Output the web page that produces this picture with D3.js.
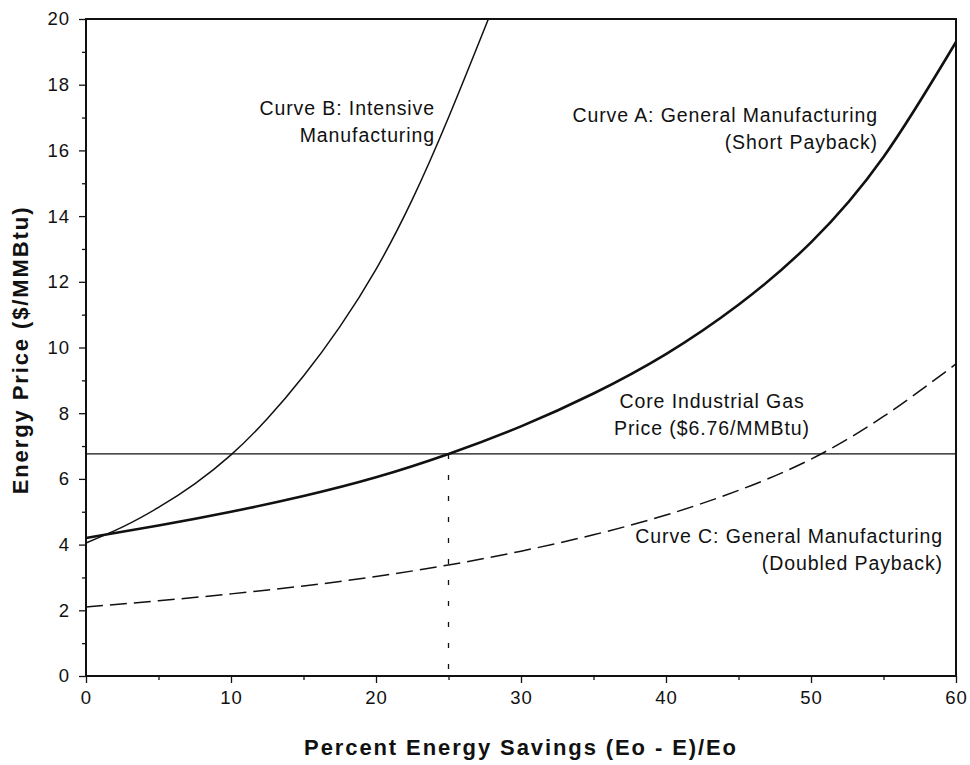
<!DOCTYPE html>
<html>
<head>
<meta charset="utf-8">
<script src="https://cdn.jsdelivr.net/npm/d3@7"></script>
<style>
  body { margin: 0; background: #fff; }
  svg text { font-family: 'Liberation Sans', Arial, Helvetica, sans-serif; fill: #111; }
</style>
</head>
<body>
<div id="chart"></div>
<script>
// axis ticks
const xTicks = [0, 10, 20, 30, 40, 50, 60];
const xMinor = [5, 15, 25, 35, 45, 55];
const yTicks = [0, 2, 4, 6, 8, 10, 12, 14, 16, 18, 20];
const yMinor = [1, 3, 5, 7, 9, 11, 13, 15, 17, 19];

// Curve A: general manufacturing (short payback)
const pctA = [0, 5, 10, 15, 20, 25, 30, 35, 40, 45, 50, 55, 60];
const priceA = [4.2, 4.58, 5.0, 5.48, 6.05, 6.76, 7.6, 8.6, 9.8, 11.3, 13.2, 15.8, 19.3];

// Curve B: intensive manufacturing
const pctB = [0, 2.5, 5, 7.5, 10, 12.5, 15, 17.5, 20, 22.5, 25, 27.75];
const priceB = [4.05, 4.53, 5.13, 5.85, 6.73, 7.83, 9.13, 10.63, 12.38, 14.5, 17.0, 20];

// Curve C: general manufacturing (doubled payback)
const pctC = [0, 5, 10, 15, 20, 25, 30, 35, 40, 45, 50, 55, 60];
const priceC = [2.1, 2.29, 2.5, 2.74, 3.03, 3.38, 3.8, 4.3, 4.9, 5.65, 6.6, 7.9, 9.5];

const gasPrice = 6.76;
const breakEven = 25;

const W = 970, H = 765;
const margin = { left: 86, right: 14, top: 19, bottom: 89 };

const svg = d3.select('#chart')
  .append('svg')
  .attr('width', W)
  .attr('height', H);

const x = d3.scaleLinear().domain([0, 60]).range([margin.left, W - margin.right]);
const y = d3.scaleLinear().domain([0, 20]).range([H - margin.bottom, margin.top]);

// axes
const xAxis = svg.append('g')
  .attr('transform', `translate(0,${y(0)})`)
  .call(d3.axisBottom(x).tickValues(xTicks).tickSize(7).tickPadding(8).tickSizeOuter(0));
const xAxisMinor = svg.append('g')
  .attr('transform', `translate(0,${y(0)})`)
  .call(d3.axisBottom(x).tickValues(xMinor).tickSize(4).tickFormat('').tickSizeOuter(0));
const yAxis = svg.append('g')
  .attr('transform', `translate(${x(0)},0)`)
  .call(d3.axisLeft(y).tickValues(yTicks).tickSize(7).tickPadding(9).tickSizeOuter(0));
const yAxisMinor = svg.append('g')
  .attr('transform', `translate(${x(0)},0)`)
  .call(d3.axisLeft(y).tickValues(yMinor).tickSize(4).tickFormat('').tickSizeOuter(0));

[xAxis, xAxisMinor, yAxis, yAxisMinor].forEach((g) => {
  g.select('.domain').remove();
  g.selectAll('line').attr('stroke', '#111').attr('stroke-width', 1.3);
  g.selectAll('text')
    .style('font-size', '18.5px')
    .style('letter-spacing', '1px')
    .attr('fill', '#111');
});

// frame
svg.append('rect')
  .attr('x', x(0))
  .attr('y', y(20))
  .attr('width', x(60) - x(0))
  .attr('height', y(0) - y(20))
  .attr('fill', 'none')
  .attr('stroke', '#111')
  .attr('stroke-width', 2);

// gas price line
svg.append('line')
  .attr('x1', x(0)).attr('x2', x(60))
  .attr('y1', y(gasPrice)).attr('y2', y(gasPrice))
  .attr('stroke', '#111')
  .attr('stroke-width', 1.3);

// break-even drop line
svg.append('line')
  .attr('x1', x(breakEven)).attr('x2', x(breakEven))
  .attr('y1', y(gasPrice)).attr('y2', y(0))
  .attr('stroke', '#111')
  .attr('stroke-width', 1.3)
  .attr('stroke-dasharray', '5,16');

const line = d3.line()
  .x((d) => x(d[0]))
  .y((d) => y(d[1]))
  .curve(d3.curveNatural);

const zip = (a, b) => a.map((v, i) => [v, b[i]]);

svg.append('path')
  .datum(zip(pctC, priceC))
  .attr('d', line)
  .attr('fill', 'none')
  .attr('stroke', '#111')
  .attr('stroke-width', 1.5)
  .attr('stroke-dasharray', '17,7');

svg.append('path')
  .datum(zip(pctB, priceB))
  .attr('d', line)
  .attr('fill', 'none')
  .attr('stroke', '#111')
  .attr('stroke-width', 1.5);

svg.append('path')
  .datum(zip(pctA, priceA))
  .attr('d', line)
  .attr('fill', 'none')
  .attr('stroke', '#111')
  .attr('stroke-width', 2.6);

// annotations
const notes = [
  { lines: ['Curve B: Intensive', 'Manufacturing'], x: 435, y: 115, anchor: 'end' },
  { lines: ['Curve A: General Manufacturing', '(Short Payback)'], x: 878, y: 122, anchor: 'end' },
  { lines: ['Core Industrial Gas', 'Price ($6.76/MMBtu)'], x: 712, y: 408, anchor: 'middle' },
  { lines: ['Curve C: General Manufacturing', '(Doubled Payback)'], x: 943, y: 543, anchor: 'end' },
];

notes.forEach((n) => {
  const t = svg.append('text')
    .attr('x', n.x)
    .attr('y', n.y)
    .attr('text-anchor', n.anchor)
    .style('font-size', '19.5px')
    .style('letter-spacing', '0.9px');
  n.lines.forEach((s, i) => {
    t.append('tspan')
      .attr('x', n.x)
      .attr('dy', i === 0 ? 0 : 27)
      .text(s);
  });
});

// axis titles
svg.append('text')
  .attr('x', (x(0) + x(60)) / 2)
  .attr('y', 755)
  .attr('text-anchor', 'middle')
  .style('font-size', '22px')
  .style('font-weight', 'bold')
  .style('letter-spacing', '1.9px')
  .text('Percent Energy Savings (Eo - E)/Eo');

svg.append('text')
  .attr('transform', `translate(28,350) rotate(-90)`)
  .attr('text-anchor', 'middle')
  .style('font-size', '22px')
  .style('font-weight', 'bold')
  .style('letter-spacing', '1.9px')
  .text('Energy Price ($/MMBtu)');
</script>
</body>
</html>
